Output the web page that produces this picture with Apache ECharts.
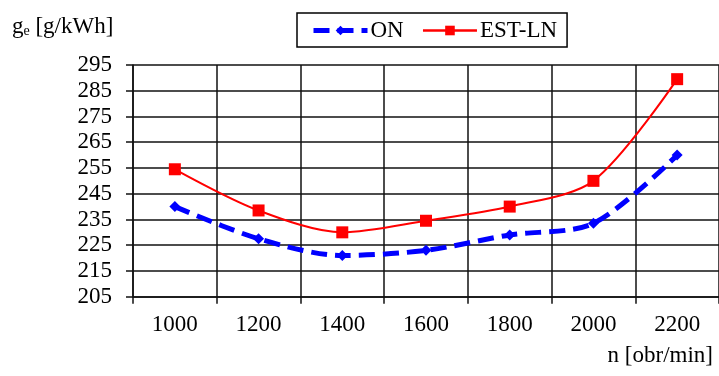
<!DOCTYPE html>
<html>
<head>
<meta charset="utf-8">
<script src="https://cdn.jsdelivr.net/npm/echarts@6/dist/echarts.min.js"></script>
<style>
html,body{margin:0;padding:0;background:#fff;}
#c{width:719px;height:376px;}
</style>
</head>
<body>
<div id="c"></div>
<script>
var categories = ['1000','1200','1400','1600','1800','2000','2200'];
var onValues = [240, 227.5, 221, 223, 229, 233.5, 260];
var estValues = [254.5, 238.5, 230, 234.5, 240, 250, 289.5];
var yTicks = {min: 205, max: 295, interval: 10};

var FONT = '"Liberation Serif", "Times New Roman", serif';
var chart = echarts.init(document.getElementById('c'), null, {renderer: 'canvas'});
chart.setOption({
  animation: false,
  backgroundColor: '#fff',
  textStyle: {fontFamily: FONT},
  grid: {left: 133, top: 65, width: 590, height: 231.7, containLabel: false},
  legend: {
    left: 297, top: 13,
    padding: [6, 10, 5, 14],
    borderColor: '#000', borderWidth: 1.5,
    itemWidth: 54, itemHeight: 12, itemGap: 18,
    textStyle: {fontFamily: FONT, fontSize: 23, color: '#000', padding: [0,0,0,-2]},
    data: [
      {name: 'ON', lineStyle: {width: 5}},
      {name: 'EST-LN', lineStyle: {width: 2.5}}
    ]
  },
  graphic: [
    {type: 'text', left: 12, top: 15, style: {
      text: '{a|g}{s|e}{a| [g/kWh]}',
      rich: {
        a: {fontFamily: FONT, fontSize: 23, fill: '#000'},
        s: {fontFamily: FONT, fontSize: 14, fill: '#000', verticalAlign: 'bottom', padding: [8,0,0,0]}
      }
    }},
    {type: 'text', right: 6, top: 344, style: {
      text: 'n [obr/min]', font: '23px ' + FONT, fill: '#000'
    }}
  ],
  xAxis: {
    type: 'category', data: categories, boundaryGap: true,
    axisLine: {lineStyle: {color: '#111', width: 1.5}},
    axisTick: {show: true, length: 7, lineStyle: {color: '#111', width: 1.5}},
    axisLabel: {fontFamily: FONT, fontSize: 23, color: '#000', margin: 17},
    splitLine: {show: true, lineStyle: {color: '#111', width: 1.5}}
  },
  yAxis: {
    type: 'value', min: yTicks.min, max: yTicks.max, interval: yTicks.interval,
    axisLine: {show: true, lineStyle: {color: '#111', width: 1.5}},
    axisTick: {show: true, length: 7, lineStyle: {color: '#111', width: 1.5}},
    axisLabel: {fontFamily: FONT, fontSize: 23, color: '#000', margin: 21},
    splitLine: {show: true, lineStyle: {color: '#111', width: 1.5}}
  },
  series: [
    {
      name: 'ON', type: 'line', data: onValues, smooth: 0.3,
      symbol: 'diamond', symbolSize: 11,
      itemStyle: {color: '#0000ff'},
      lineStyle: {color: '#0000ff', width: 5, type: [16, 8]},
      z: 3
    },
    {
      name: 'EST-LN', type: 'line', data: estValues, smooth: 0.3,
      symbol: 'rect', symbolSize: 12,
      itemStyle: {color: '#ff0000'},
      lineStyle: {color: '#ff0000', width: 2},
      z: 4
    }
  ]
});
</script>
</body>
</html>
